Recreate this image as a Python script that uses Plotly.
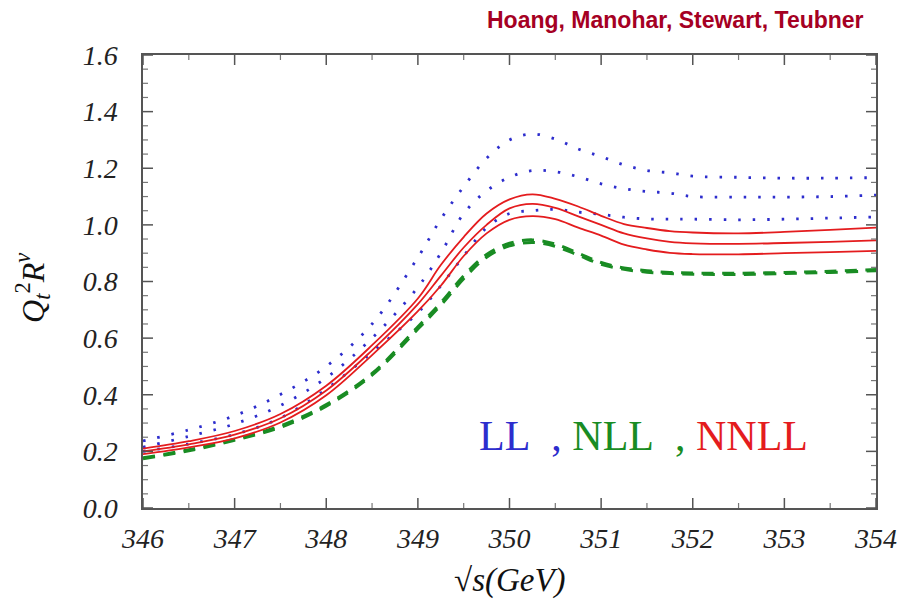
import plotly.graph_objects as go

# sqrt(s) grid in GeV
sqrt_s = [346.0, 346.5, 347.0, 347.5, 348.0, 348.5, 349.0, 349.25, 349.5, 349.75,
          350.0, 350.25, 350.5, 350.75, 351.0, 351.25, 351.5, 351.75, 352.0,
          352.5, 353.0, 353.5, 354.0]

# LL (blue dotted) - three curves
ll_upper = [0.237, 0.276, 0.326, 0.401, 0.500, 0.650, 0.885, 1.020, 1.135, 1.235,
            1.300, 1.321, 1.303, 1.268, 1.241, 1.212, 1.192, 1.184, 1.172,
            1.168, 1.165, 1.165, 1.167]
ll_middle = [0.215, 0.253, 0.297, 0.362, 0.460, 0.600, 0.780, 0.900, 1.040, 1.120,
             1.168, 1.192, 1.188, 1.170, 1.145, 1.128, 1.118, 1.112, 1.100,
             1.098, 1.098, 1.100, 1.105]
ll_lower = [0.200, 0.226, 0.260, 0.318, 0.420, 0.550, 0.690, 0.785, 0.890, 0.990,
            1.040, 1.050, 1.055, 1.045, 1.037, 1.027, 1.021, 1.020, 1.020,
            1.018, 1.020, 1.024, 1.028]

# NLL (green dashed) - two nearly coincident curves
nll_upper = [0.177, 0.206, 0.243, 0.290, 0.365, 0.475, 0.640, 0.725, 0.820, 0.895,
             0.935, 0.947, 0.932, 0.900, 0.867, 0.848, 0.838, 0.832, 0.830,
             0.829, 0.832, 0.836, 0.842]
nll_lower = [0.174, 0.202, 0.239, 0.285, 0.360, 0.469, 0.632, 0.716, 0.810, 0.886,
             0.926, 0.938, 0.924, 0.893, 0.861, 0.843, 0.833, 0.828, 0.826,
             0.825, 0.828, 0.832, 0.838]

# NNLL (red solid) - three curves
nnll_upper = [0.210, 0.236, 0.272, 0.332, 0.432, 0.575, 0.740, 0.858, 0.957, 1.040,
              1.090, 1.108, 1.092, 1.065, 1.032, 1.003, 0.989, 0.978, 0.973,
              0.970, 0.975, 0.982, 0.990]
nnll_middle = [0.200, 0.225, 0.259, 0.317, 0.415, 0.557, 0.720, 0.820, 0.920, 1.000,
               1.058, 1.074, 1.060, 1.030, 1.000, 0.970, 0.952, 0.940, 0.935,
               0.933, 0.936, 0.940, 0.945]
nnll_lower = [0.190, 0.214, 0.246, 0.302, 0.398, 0.540, 0.695, 0.785, 0.890, 0.970,
              1.018, 1.031, 1.020, 0.990, 0.962, 0.930, 0.913, 0.901, 0.897,
              0.896, 0.900, 0.904, 0.908]

# axis ticks
x_ticks = [346, 347, 348, 349, 350, 351, 352, 353, 354]
y_ticks = [0.0, 0.2, 0.4, 0.6, 0.8, 1.0, 1.2, 1.4, 1.6]

BLUE = "rgb(45,45,205)"
GREEN = "rgb(25,140,35)"
RED = "rgb(228,28,30)"
TICK = "#555"

X_RANGE = [x_ticks[0], x_ticks[-1]]
Y_RANGE = [y_ticks[0], y_ticks[-1]]
PLOT_W, PLOT_H = 733, 453  # plot-area size in pixels (913-143-37, 603-55-95)

fig = go.Figure()
for ys in (ll_upper, ll_middle, ll_lower):
    fig.add_trace(go.Scatter(x=sqrt_s, y=ys, mode="lines",
                             line=dict(color=BLUE, width=2.8, dash="2.5px,12px",
                                       shape="spline", smoothing=1.0),
                             showlegend=False, hoverinfo="skip"))
for ys in (nll_upper, nll_lower):
    fig.add_trace(go.Scatter(x=sqrt_s, y=ys, mode="lines",
                             line=dict(color=GREEN, width=3.0, dash="12px,8.5px",
                                       shape="spline", smoothing=1.0),
                             showlegend=False, hoverinfo="skip"))
for ys in (nnll_upper, nnll_middle, nnll_lower):
    fig.add_trace(go.Scatter(x=sqrt_s, y=ys, mode="lines",
                             line=dict(color=RED, width=1.8,
                                       shape="spline", smoothing=1.0),
                             showlegend=False, hoverinfo="skip"))

# inside tick marks on all four sides, drawn as line traces from the tick arrays
x_minor = [(a + b) / 2 for a, b in zip(x_ticks[:-1], x_ticks[1:])]
y_minor = [y_ticks[i] + (y_ticks[i + 1] - y_ticks[i]) * k / 4
           for i in range(len(y_ticks) - 1) for k in (1, 2, 3)]

def px_to_dx(px):
    return px * (X_RANGE[1] - X_RANGE[0]) / PLOT_W

def px_to_dy(px):
    return px * (Y_RANGE[1] - Y_RANGE[0]) / PLOT_H

def tick_trace(xvals, yvals, length, width, color):
    tx, ty = [], []
    dy = px_to_dy(length)
    dx = px_to_dx(length)
    for v in xvals:
        tx += [v, v, None, v, v, None]
        ty += [Y_RANGE[0], Y_RANGE[0] + dy, None, Y_RANGE[1], Y_RANGE[1] - dy, None]
    for v in yvals:
        tx += [X_RANGE[0], X_RANGE[0] + dx, None, X_RANGE[1], X_RANGE[1] - dx, None]
        ty += [v, v, None, v, v, None]
    return go.Scatter(x=tx, y=ty, mode="lines", line=dict(color=color, width=width),
                      showlegend=False, hoverinfo="skip", cliponaxis=False)

fig.add_trace(tick_trace(x_ticks, y_ticks, 10, 1.5, TICK))
fig.add_trace(tick_trace(x_minor, y_minor, 5, 1.2, "#777"))

tickfont = dict(family="Liberation Serif", size=28, color="#222", style="italic")

fig.update_xaxes(range=X_RANGE, tickvals=x_ticks,
                 ticktext=[str(v) for v in x_ticks], ticks="",
                 ticklabelstandoff=5,
                 showline=True, linecolor=TICK, linewidth=1.5, mirror=True,
                 showgrid=False, zeroline=False, tickfont=tickfont)
fig.update_yaxes(range=Y_RANGE, tickvals=y_ticks,
                 ticktext=[f"{v:.1f}" for v in y_ticks], ticks="",
                 ticklabelstandoff=18,
                 showline=True, linecolor=TICK, linewidth=1.5, mirror=True,
                 showgrid=False, zeroline=False, tickfont=tickfont)

serif = "Liberation Serif"
annotations = [
    dict(text="Hoang, Manohar, Stewart, Teubner", xref="paper", yref="paper",
         x=0.9864, y=1.077, xanchor="right", yanchor="middle", showarrow=False,
         font=dict(family="Liberation Sans", size=23, color="rgb(165,0,35)",
                   weight="bold")),
    dict(text="<i>Q</i><sub><i>t</i></sub><sup>2</sup><i>R</i><sup><i>v</i></sup>",
         xref="paper", yref="paper", x=-0.150, y=0.486, textangle=-90,
         xanchor="center", yanchor="middle", showarrow=False,
         font=dict(family=serif, size=32, color="#111")),
    dict(text="√<i>s</i><i>(GeV)</i>", xref="paper", yref="paper",
         x=0.5, y=-0.159, xanchor="center", yanchor="middle", showarrow=False,
         font=dict(family=serif, size=33, color="#111")),
    dict(text=(f"<span style='color:{BLUE}'>LL&nbsp;&nbsp;,</span>&nbsp;"
               f"<span style='color:{GREEN}'>NLL&nbsp;&nbsp;,</span>&nbsp;"
               f"<span style='color:{RED}'>NNLL</span>"),
         xref="x", yref="y", x=351.457, y=0.254, xanchor="center",
         yanchor="middle", showarrow=False,
         font=dict(family=serif, size=42)),
]

fig.update_layout(width=913, height=603,
                  margin=dict(l=143, r=37, t=55, b=95),
                  paper_bgcolor="white", plot_bgcolor="white",
                  annotations=annotations)

fig.write_html("out.html")
